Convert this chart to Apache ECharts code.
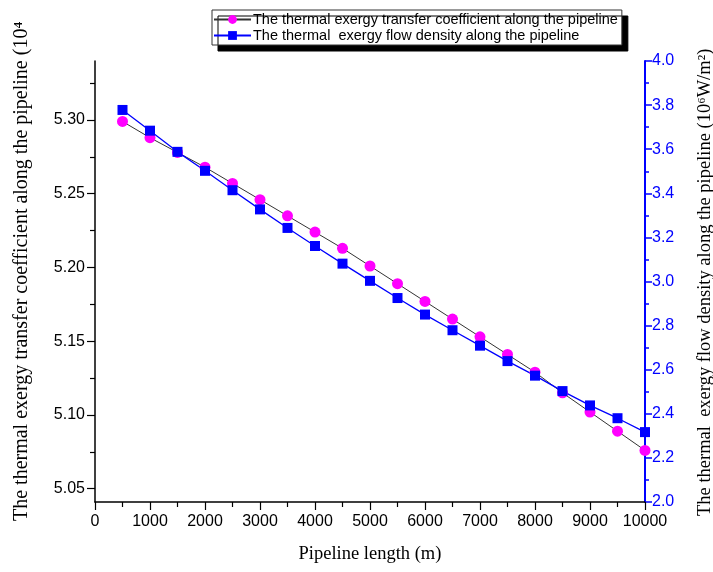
<!DOCTYPE html>
<html>
<head>
<meta charset="utf-8">
<script src="https://cdn.jsdelivr.net/npm/echarts@6/dist/echarts.min.js"></script>
<style>html,body{margin:0;padding:0;background:#fff;}#c{width:713px;height:572px;}</style>
</head>
<body>
<div id="c"></div>
<script>
var pipelineLength = [500, 1000, 1500, 2000, 2500, 3000, 3500, 4000, 4500, 5000, 5500, 6000, 6500, 7000, 7500, 8000, 8500, 9000, 9500, 10000];
var transferCoefficient = [5.299, 5.288, 5.278, 5.268, 5.257, 5.246, 5.235, 5.224, 5.213, 5.201, 5.189, 5.177, 5.165, 5.153, 5.141, 5.129, 5.115, 5.102, 5.089, 5.076];
var flowDensity = [3.778, 3.684, 3.588, 3.502, 3.414, 3.327, 3.243, 3.161, 3.081, 3.003, 2.925, 2.850, 2.779, 2.709, 2.639, 2.573, 2.503, 2.438, 2.380, 2.317];
var leftTicks = [5.05, 5.10, 5.15, 5.20, 5.25, 5.30];
var leftMinorTicks = [5.075, 5.125, 5.175, 5.225, 5.275, 5.325];
var seriesNames = ['The thermal exergy transfer coefficient along the pipeline', 'The thermal  exergy flow density along the pipeline'];
var xTitle = 'Pipeline length (m)';
var leftTitle = 'The thermal exergy transfer coefficient along the pipeline (10\u2074';
var rightTitle = 'The thermal  exergy flow density along the pipeline (10\u2076W/m\u00B2)';

function pairs(xs, ys) { return xs.map(function (x, i) { return [x, ys[i]]; }); }

var chart = echarts.init(document.getElementById('c'), null, { renderer: 'canvas' });
var sans = 'Liberation Sans, Arial, sans-serif';
var serif = 'Liberation Serif, Times New Roman, serif';
var YMIN = 5.041, YMAX = 5.340;
chart.setOption({
  animation: false,
  backgroundColor: '#fff',
  grid: { left: 95, right: 68, top: 61, bottom: 70 },
  legend: {
    left: 212, top: 10, orient: 'vertical',
    padding: [2, 4, 2, 1], itemGap: 1, itemWidth: 37, itemHeight: 11,
    backgroundColor: '#fff', borderColor: '#333', borderWidth: 1, borderRadius: 0,
    shadowColor: '#000', shadowBlur: 0, shadowOffsetX: 6, shadowOffsetY: 6,
    textStyle: { fontFamily: sans, fontSize: 14.5, color: '#000', padding: [0, 0, 0, -3] },
    data: seriesNames
  },
  xAxis: {
    type: 'value', min: 0, max: 10000, interval: 1000,
    name: xTitle, nameLocation: 'middle', nameGap: 43,
    nameTextStyle: { fontFamily: serif, fontSize: 18.5, color: '#000' },
    axisLine: { show: true, lineStyle: { color: '#000', width: 1.5 } },
    axisTick: { show: true, length: 8, lineStyle: { color: '#000', width: 1.2 } },
    minorTick: { show: true, splitNumber: 2, length: 5, lineStyle: { color: '#000', width: 1.2 } },
    axisLabel: { fontFamily: sans, fontSize: 16, color: '#000', margin: 12,
      formatter: function (v) { return String(v); } },
    splitLine: { show: false }
  },
  yAxis: [
    {
      type: 'value', position: 'left', min: YMIN, max: YMAX,
      axisLine: { show: true, onZero: false, lineStyle: { color: '#000', width: 1.5 } },
      axisTick: { show: true, length: 8, customValues: leftTicks, lineStyle: { color: '#000', width: 1.2 } },
      axisLabel: { customValues: leftTicks, fontFamily: sans, fontSize: 16, color: '#000', margin: 10,
        formatter: function (v) { return v.toFixed(2); } },
      splitLine: { show: false }
    },
    {
      type: 'value', position: 'left', min: YMIN, max: YMAX,
      axisLine: { show: false },
      axisTick: { show: true, length: 5, customValues: leftMinorTicks, lineStyle: { color: '#000', width: 1.2 } },
      axisLabel: { show: false },
      splitLine: { show: false }
    },
    {
      type: 'value', position: 'right', min: 2.0, max: 4.0, interval: 0.2,
      axisLine: { show: true, onZero: false, lineStyle: { color: '#0000ff', width: 2 } },
      axisTick: { show: true, length: 7, lineStyle: { color: '#0000ff', width: 1.5 } },
      minorTick: { show: true, splitNumber: 2, length: 4, lineStyle: { color: '#0000ff', width: 1.5 } },
      axisLabel: { fontFamily: sans, fontSize: 16, color: '#0000ff', margin: 7,
        formatter: function (v) { return v.toFixed(1); } },
      splitLine: { show: false }
    }
  ],
  series: [
    {
      name: seriesNames[0], type: 'line', yAxisIndex: 0,
      data: pairs(pipelineLength, transferCoefficient),
      symbol: 'circle', symbolSize: 11,
      itemStyle: { color: '#ff00ff' },
      lineStyle: { color: '#333', width: 1 }
    },
    {
      name: seriesNames[1], type: 'line', yAxisIndex: 2,
      data: pairs(pipelineLength, flowDensity),
      symbol: 'rect', symbolSize: 10,
      itemStyle: { color: '#0000ff' },
      lineStyle: { color: '#0000ff', width: 1.3 }
    }
  ],
  graphic: [
    { type: 'text', x: 22, y: 521, rotation: Math.PI / 2,
      style: { text: leftTitle, font: '20px ' + serif, fill: '#000', textAlign: 'left', textVerticalAlign: 'middle' } },
    { type: 'text', x: 705, y: 516, rotation: Math.PI / 2,
      style: { text: rightTitle, font: '18.5px ' + serif, fill: '#000', textAlign: 'left', textVerticalAlign: 'middle' } }
  ]
});
</script>
</body>
</html>
